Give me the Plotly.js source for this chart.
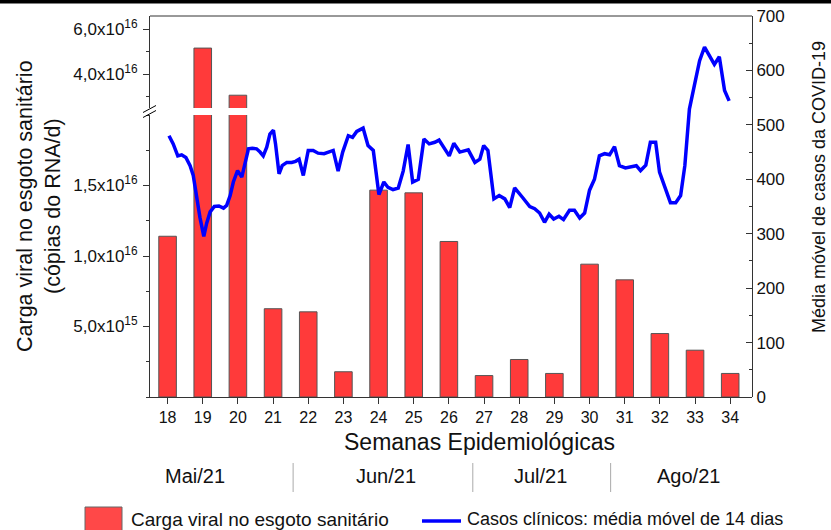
<!DOCTYPE html>
<html>
<head>
<meta charset="utf-8">
<script src="https://cdn.plot.ly/plotly-3.0.1.min.js"></script>
<style>html,body{margin:0;padding:0;background:#fff;}#chart{width:831px;height:530px;}</style>
</head>
<body>
<div id="chart"></div>
<script>
// ---- data ----
const weeks = [18,19,20,21,22,23,24,25,26,27,28,29,30,31,32,33,34];
const cargaViral = [1.14e16,5.17e16,3.07e16,6.26e15,6.04e15,1.79e15,1.467e16,1.448e16,1.103e16,1.52e15,2.66e15,1.67e15,9.42e15,8.31e15,4.5e15,3.32e15,1.67e15];
const casosSemana = [18.04,18.16,18.29,18.40,18.52,18.64,18.73,18.83,18.92,19.03,19.11,19.21,19.33,19.46,19.59,19.68,19.78,19.87,19.99,20.11,20.20,20.30,20.41,20.53,20.63,20.72,20.82,20.91,21.01,21.07,21.17,21.26,21.39,21.53,21.64,21.74,21.86,22.00,22.14,22.28,22.45,22.60,22.71,22.85,22.98,23.14,23.26,23.38,23.56,23.70,23.85,24.01,24.15,24.27,24.41,24.56,24.70,24.84,24.97,25.13,25.29,25.44,25.60,25.72,25.88,26.01,26.14,26.31,26.55,26.74,26.88,26.99,27.11,27.28,27.43,27.59,27.73,27.87,28.09,28.30,28.44,28.58,28.72,28.85,28.98,29.13,29.26,29.43,29.57,29.72,29.86,30.00,30.14,30.28,30.43,30.57,30.71,30.85,31.02,31.22,31.33,31.45,31.60,31.73,31.88,31.99,32.13,32.30,32.45,32.59,32.71,32.84,32.98,33.13,33.27,33.41,33.55,33.69,33.84,33.97];
const casosMedia = [480,465,443,445,440,425,407,361,330,295,319,340,350,351,347,352,370,395,416,404,428,456,457,456,450,443,459,483,490,465,410,425,431,431,433,437,407,453,453,448,447,450,453,415,450,480,477,488,494,462,453,372,395,385,381,384,415,464,395,400,474,465,468,472,455,443,466,450,454,431,437,462,453,364,370,364,348,384,367,350,346,338,321,336,327,332,326,343,343,329,338,380,400,443,447,445,460,425,421,424,425,416,426,468,468,413,386,357,357,370,425,529,572,618,643,627,611,625,563,544];
const lowerTicks = [5e15,1e16,1.5e16];
const lowerTickText = ['5,0x10<sup>15</sup>','1,0x10<sup>16</sup>','1,5x10<sup>16</sup>'];
const upperTicks = [4e16,6e16];
const upperTickText = ['4,0x10<sup>16</sup>','6,0x10<sup>16</sup>'];
const months = ['Mai/21','Jun/21','Jul/21','Ago/21'];
const monthCenters = [18.78,24.2,28.6,32.8];
const monthSeparators = [21.57,26.68,30.6];
const nomeCarga = 'Carga viral no esgoto sanitário';
const nomeCasos = 'Casos clínicos: média móvel de 14 dias';

// ---- geometry helpers (plot area: x 150..752, y 16..397) ----
const L=150, R=752, T=16, B=397;
const px = x => (x - L)/(R - L);
const py = y => (B - y)/(B - T);

const FONT = 'Liberation Sans, Arial, sans-serif';
const axisColor = '#333';
const barFill = '#ff3a3a';
const barLine = '#555';

const traces = [
  {type:'bar', x:weeks, y:cargaViral, xaxis:'x', yaxis:'y', width:0.5,
   marker:{color:barFill, line:{color:barLine, width:1}}, showlegend:false, hoverinfo:'skip'},
  {type:'bar', x:weeks, y:cargaViral, xaxis:'x', yaxis:'y2', width:0.5,
   marker:{color:barFill, line:{color:barLine, width:1}}, showlegend:false, hoverinfo:'skip'},
  {type:'scatter', mode:'lines', x:casosSemana, y:casosMedia, xaxis:'x', yaxis:'y3',
   line:{color:'#0000ff', width:3.5}, showlegend:false, hoverinfo:'skip'}
];

const breakY = py(111.5);
const shapes = [
  {type:'line', xref:'paper', yref:'paper', x0:0, x1:1, y0:1, y1:1, line:{color:axisColor, width:1}},
  {type:'rect', xref:'paper', yref:'paper', x0:px(0), x1:px(831), y0:py(3.5), y1:py(-1), fillcolor:'#000', line:{width:0}},
  {type:'line', xref:'paper', yref:'paper', xsizemode:'pixel', xanchor:0, ysizemode:'pixel', yanchor:breakY,
   x0:-7, x1:6, y0:-6, y1:1, line:{color:'#000', width:1}},
  {type:'line', xref:'paper', yref:'paper', xsizemode:'pixel', xanchor:0, ysizemode:'pixel', yanchor:breakY,
   x0:-7, x1:6, y0:-1, y1:6, line:{color:'#000', width:1}},
  {type:'rect', xref:'paper', yref:'paper', x0:px(85), x1:px(122), y0:py(531), y1:py(507), fillcolor:'#ff4848', line:{color:'#666', width:1}},
  {type:'line', xref:'paper', yref:'paper', x0:px(422), x1:px(461), y0:py(521), y1:py(521), line:{color:'#0000ff', width:3.5}}
];
monthSeparators.forEach(s => shapes.push({type:'line', xref:'x', yref:'paper', x0:s, x1:s, y0:py(492), y1:py(463), line:{color:'#aaa', width:1}}));

const annotations = [
  {text:'Semanas Epidemiológicas', xref:'paper', yref:'paper', x:px(479), y:py(442), xanchor:'center', yanchor:'middle', showarrow:false, font:{family:FONT, size:23, color:'#111'}},
  {text:'Carga viral no esgoto sanitário<br>(cópias do RNA/d)', xref:'paper', yref:'paper', x:px(39), y:py(206), textangle:-90, xanchor:'center', yanchor:'middle', showarrow:false, font:{family:FONT, size:21.5, color:'#111'}},
  {text:'Média móvel de casos da COVID-19', xref:'paper', yref:'paper', x:px(819), y:py(187), textangle:-90, xanchor:'center', yanchor:'middle', showarrow:false, font:{family:FONT, size:18, color:'#111'}},
  {text:nomeCarga, xref:'paper', yref:'paper', x:px(129), y:py(519), xanchor:'left', yanchor:'middle', showarrow:false, font:{family:FONT, size:19, color:'#111'}},
  {text:nomeCasos, xref:'paper', yref:'paper', x:px(465), y:py(519), xanchor:'left', yanchor:'middle', showarrow:false, font:{family:FONT, size:18, color:'#111'}}
];
months.forEach((m,i) => annotations.push({text:m, xref:'x', yref:'paper', x:monthCenters[i], y:py(476), xanchor:'center', yanchor:'middle', showarrow:false, font:{family:FONT, size:20, color:'#111'}}));

const xTickFont = {family:FONT, size:16, color:'#111'};
const yTickFont = {family:FONT, size:17, color:'#111'};
const layout = {
  width:831, height:530,
  margin:{l:L, r:831-R, t:T, b:530-B},
  paper_bgcolor:'#fff', plot_bgcolor:'rgba(0,0,0,0)',
  showlegend:false,
  xaxis:{domain:[0,1], range:[17.5,34.62], anchor:'y', tickmode:'array', tickvals:weeks, ticktext:weeks.map(String),
    ticks:'outside', ticklen:6, tickcolor:axisColor, showline:true, linecolor:axisColor, linewidth:1,
    showgrid:false, zeroline:false, tickfont:xTickFont, fixedrange:true},
  yaxis:{domain:[0, py(115)], range:[0,2.0e16], anchor:'x', side:'left', tickmode:'array', tickvals:lowerTicks, ticktext:lowerTickText,
    ticks:'outside', ticklen:6, tickcolor:axisColor, showline:true, linecolor:axisColor, linewidth:1,
    minor:{tickmode:'linear', tick0:0, dtick:2.5e15, ticks:'outside', ticklen:3, tickcolor:axisColor},
    showgrid:false, zeroline:false, tickfont:yTickFont, ticklabelstandoff:2},
  yaxis2:{domain:[py(108),1], range:[2.5e16,6.6e16], anchor:'x', side:'left', tickmode:'array', tickvals:upperTicks, ticktext:upperTickText,
    ticks:'outside', ticklen:6, tickcolor:axisColor, showline:true, linecolor:axisColor, linewidth:1,
    minor:{tickmode:'linear', tick0:0, dtick:1e16, ticks:'outside', ticklen:3, tickcolor:axisColor},
    showgrid:false, zeroline:false, tickfont:yTickFont, ticklabelstandoff:2},
  yaxis3:{domain:[0,1], range:[0,700], anchor:'x', side:'right', tickmode:'linear', tick0:0, dtick:100,
    ticks:'inside', ticklen:6, tickcolor:axisColor, showline:true, linecolor:axisColor, linewidth:1,
    minor:{tickmode:'linear', tick0:0, dtick:50, ticks:'inside', ticklen:3, tickcolor:axisColor},
    showgrid:false, zeroline:false, tickfont:yTickFont},
  shapes:shapes,
  annotations:annotations
};

Plotly.newPlot('chart', traces, layout, {staticPlot:true, displayModeBar:false});
</script>
</body>
</html>
